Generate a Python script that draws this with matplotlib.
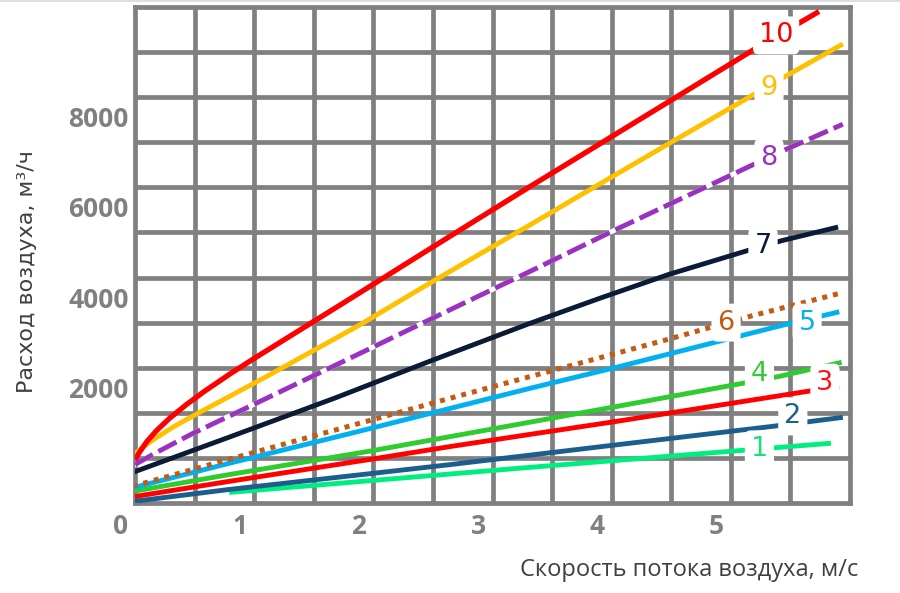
import matplotlib
matplotlib.use("Agg")
import matplotlib.pyplot as plt
from matplotlib.lines import Line2D

# ---- data ----
x10 = [0.12, 0.16, 0.22, 0.30, 0.41, 0.55, 0.70, 0.91, 1.11, 1.50, 1.95, 2.59, 3.43, 4.63, 5.34, 5.86]
y10 = [456, 636, 864, 1104, 1379, 1680, 1972, 2350, 2690, 3330, 4070, 5130, 6510, 8450, 9600, 10400]
x9 = [0.06, 0.15, 0.27, 0.45, 0.69, 0.91, 1.22, 1.48, 2.00, 2.59, 3.43, 3.88, 4.60, 5.28, 5.59, 6.06]
y9 = [466, 660, 900, 1200, 1550, 1860, 2300, 2680, 3440, 4370, 5660, 6360, 7470, 8510, 8980, 9680]
x8 = [0.12, 0.30, 0.61, 1.08, 1.90, 2.76, 3.43, 4.16, 5.28, 5.59, 6.06]
y8 = [355, 620, 1050, 1640, 2680, 3780, 4630, 5570, 6970, 7350, 7900]
x7 = [0.10, 0.91, 1.80, 2.59, 3.43, 4.02, 4.60, 5.25, 5.55, 6.02]
y7 = [177, 960, 1830, 2640, 3480, 4040, 4570, 5090, 5320, 5620]
x6 = [0.10, 0.91, 2.09, 2.76, 3.43, 4.58, 5.25, 6.02]
y6 = [-130, 470, 1330, 1820, 2300, 3120, 3620, 4140]
x5 = [0.12, 0.91, 2.00, 3.43, 4.16, 5.55, 6.03]
y5 = [-150, 380, 1090, 2040, 2510, 3440, 3740]
x4 = [0.10, 0.91, 2.09, 2.76, 4.16, 5.19, 5.53, 6.05]
y4 = [-244, 130, 650, 970, 1640, 2140, 2310, 2620]
x3 = [0.12, 0.91, 2.09, 2.76, 3.43, 4.16, 5.70, 6.03]
y3 = [-355, -20, 466, 750, 1020, 1310, 1950, 2085]
x2 = [0.12, 0.91, 2.09, 2.76, 3.43, 4.16, 5.47, 6.06]
y2 = [-460, -200, 150, 350, 560, 790, 1200, 1400]
x1 = [0.91, 3.43, 5.96]
y1 = [-266, 290, 825]

series_names = ["1", "2", "3", "4", "5", "6", "7", "8", "9", "10"]
label_x = [5.36, 5.64, 5.91, 5.36, 5.76, 5.08, 5.39, 5.44, 5.44, 5.50]
label_y = [690, 1420, 2170, 2350, 3500, 3500, 5190, 7160, 8710, 9870]

x_tick_values = [0, 1, 2, 3, 4, 5]
y_tick_values = [2000, 4000, 6000, 8000]
x_grid = [0.12 + 0.5 * k for k in range(13)]
y_grid = [-500 + 1000 * k for k in range(12)]

xs = [x1, x2, x3, x4, x5, x6, x7, x8, x9, x10]
ys = [y1, y2, y3, y4, y5, y6, y7, y8, y9, y10]
colors = ["#00EE80", "#1B5E8E", "#FF0000", "#2ECC2E", "#00B0F0",
          "#C55A11", "#0B1B36", "#9A32C0", "#FFC000", "#FF0000"]
label_colors = ["#22DD77", "#1B5E8E", "#FF1010", "#33CC33", "#00B0F0",
                "#C55A11", "#0B1B36", "#9A32C0", "#FFC000", "#FF0000"]

plt.rcParams['font.family'] = ['Open Sans', 'DejaVu Sans']

fig = plt.figure(figsize=(9.0, 5.93), dpi=100)
ax = fig.add_axes([135 / 900, 1 - 503 / 593, 715 / 900, 496 / 593])

ax.set_xlim(x_grid[0], x_grid[-1])
ax.set_ylim(y_grid[0], y_grid[-1])
grid_c = "#808080"
grid_lw = 3.4
for gx in x_grid[1:-1]:
    ax.axvline(gx, color=grid_c, lw=grid_lw, zorder=1)
for gy in y_grid[1:-1]:
    ax.axhline(gy, color=grid_c, lw=grid_lw, zorder=1)
for s in ax.spines.values():
    s.set_color(grid_c)
    s.set_linewidth(grid_lw)
ax.set_xticks([])
ax.set_yticks([])

for i in range(10):
    lw = 3.5 if i != 9 else 3.8
    if i == 7:
        ax.plot(xs[i], ys[i], color="white", lw=lw, zorder=3)
        ax.plot(xs[i], ys[i], color=colors[i], lw=lw, zorder=3,
                dashes=(4.2, 1.3), dash_capstyle='butt', solid_joinstyle='round')
    elif i == 5:
        ax.plot(xs[i], ys[i], color=colors[i], lw=3.6, zorder=3,
                dashes=(1, 1.2), dash_capstyle='butt')
    else:
        ax.plot(xs[i], ys[i], color=colors[i], lw=lw, zorder=3,
                solid_capstyle='butt', solid_joinstyle='round')

for i in range(10):
    ax.text(label_x[i], label_y[i], series_names[i], color=label_colors[i],
            fontsize=19.5, family=['DejaVu Sans'], ha='center', va='center',
            zorder=5,
            bbox=dict(boxstyle='round,pad=0.22', fc='white', ec='none'))

for v in x_tick_values:
    ax.text(v, -0.048, str(v), transform=ax.get_xaxis_transform(),
            ha='center', va='center', fontsize=19, fontweight='bold',
            color="#808080", clip_on=False)
for v in y_tick_values:
    ax.text(-0.009, v, str(v), transform=ax.get_yaxis_transform(),
            ha='right', va='center', fontsize=19, fontweight='bold',
            color="#808080", clip_on=False)

fig.text(689 / 900, 1 - 570 / 593, "Скорость потока воздуха, м/с",
         ha='center', va='center', fontsize=17, color="#404040")
fig.text(27 / 900, 1 - 272 / 593, "Расход воздуха, м³/ч", rotation=90,
         ha='center', va='center', fontsize=16, color="#404040",
         family=['DejaVu Sans'])

fig.add_artist(Line2D([0, 1], [0.998, 0.998], color="#d8d8d8", lw=1.2,
                      transform=fig.transFigure))

fig.savefig("out.png", dpi=100)
